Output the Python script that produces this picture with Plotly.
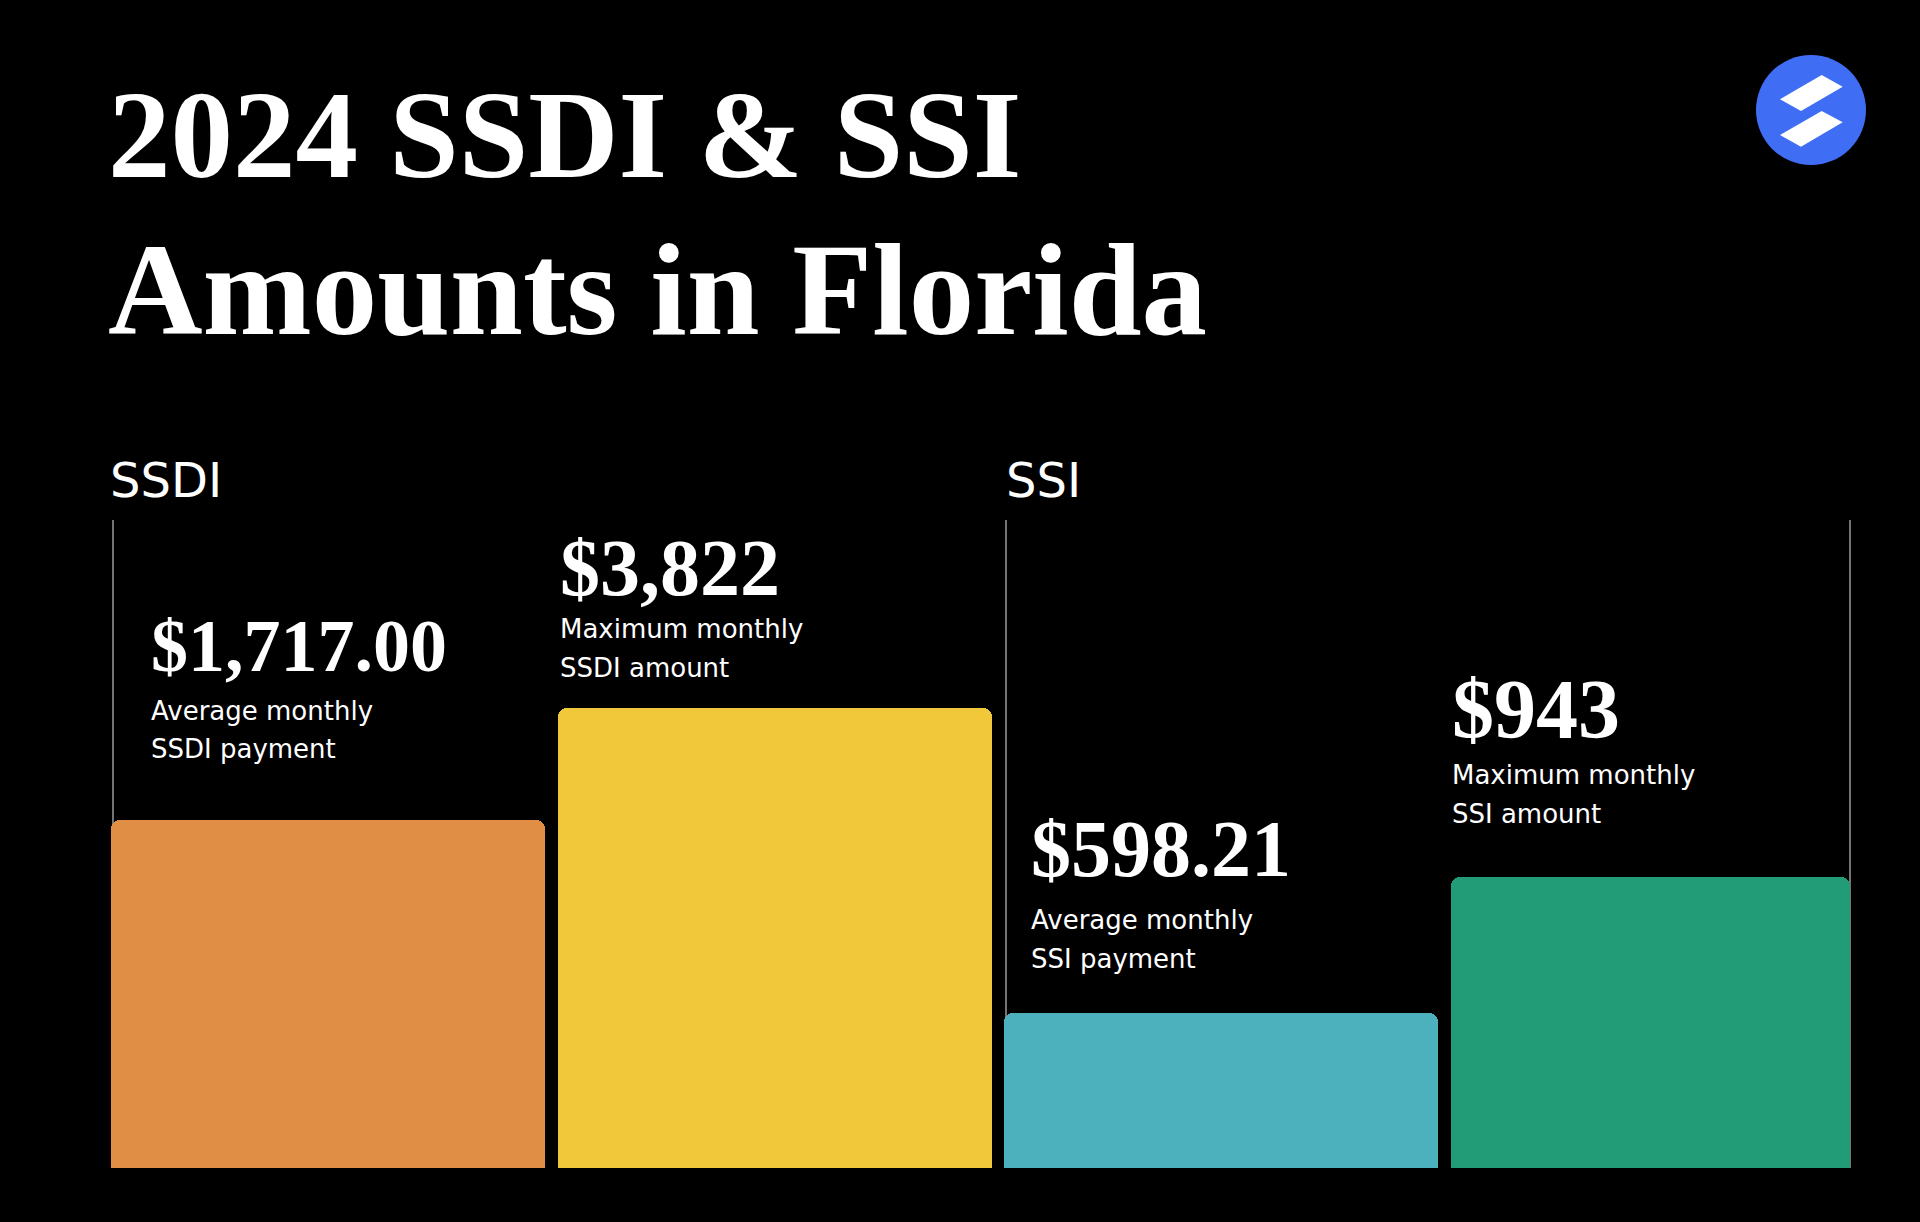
import plotly.graph_objects as go

# ---------------- data ----------------
categories = ["SSDI average", "SSDI maximum", "SSI average", "SSI maximum"]
amounts = [1717.00, 3822, 598.21, 943]
amount_labels = ["$1,717.00", "$3,822", "$598.21", "$943"]
desc_line1 = ["Average monthly", "Maximum monthly", "Average monthly", "Maximum monthly"]
desc_line2 = ["SSDI payment", "SSDI amount", "SSI payment", "SSI amount"]
# bar heights as drawn in the infographic, % of panel height (not proportional to amounts)
bar_heights = [53.7, 71.0, 23.9, 44.9]
bar_colors = ["#E08E45", "#F0C83A", "#4DB1BD", "#229C76"]
group_labels = ["SSDI", "SSI"]
title_lines = ["2024 SSDI & SSI", "Amounts in Florida"]

# ---------------- layout helpers ----------------
W, H = 1920, 1222


def px(x):
    return x / W


def py(y):
    return 1 - y / H


SERIF = "Liberation Serif"
SANS = "DejaVu Sans"

positions = list(range(len(categories)))
pitch = 446.7
bar_w = 434 / pitch
widths = [bar_w, bar_w, bar_w, 399 / pitch]
offset = -bar_w / 2
x_start = offset - 111 / pitch
x_end = x_start + W / pitch

fig = go.Figure()
fig.add_trace(
    go.Bar(
        x=positions,
        y=bar_heights,
        width=widths,
        offset=offset,
        marker=dict(color=bar_colors, line=dict(width=0), cornerradius=9),
        customdata=amounts,
        hovertext=categories,
        hovertemplate="%{hovertext}: $%{customdata:,.2f}<extra></extra>",
    )
)

annotations = []
# title
title_centers = [134.5, 290]
title_sizes = [125, 131]
for line, cy, fs in zip(title_lines, title_centers, title_sizes):
    annotations.append(dict(
        text=line, x=px(106), y=py(cy), xref="paper", yref="paper",
        xanchor="left", yanchor="middle", showarrow=False,
        font=dict(family=SERIF, size=fs, color="white", weight="bold"),
    ))

# group labels
for lab, gx in zip(group_labels, [108, 1004]):
    annotations.append(dict(
        text=lab, x=px(gx), y=py(480), xref="paper", yref="paper",
        xanchor="left", yanchor="middle", showarrow=False,
        font=dict(family=SANS, size=48, color="white"),
    ))

text_x = [149, 558, 1029, 1450]
num_cy = [646, 568, 849, 709]
num_size = [74, 80, 80, 84]
d1_cy = [711, 629, 920, 775]
d2_cy = [749, 668, 959, 814]
for i in range(len(categories)):
    annotations.append(dict(
        text=amount_labels[i], x=px(text_x[i]), y=py(num_cy[i]),
        xref="paper", yref="paper", xanchor="left", yanchor="middle",
        showarrow=False,
        font=dict(family=SERIF, size=num_size[i], color="white", weight="bold"),
    ))
    for txt, cy in ((desc_line1[i], d1_cy[i]), (desc_line2[i], d2_cy[i])):
        annotations.append(dict(
            text=txt, x=px(text_x[i]), y=py(cy),
            xref="paper", yref="paper", xanchor="left", yanchor="middle",
            showarrow=False,
            font=dict(family=SANS, size=26, color="white"),
        ))

shapes = []
# vertical separator lines
for lx in [113, 1006, 1850]:
    shapes.append(dict(
        type="line", xref="paper", yref="paper",
        x0=px(lx), x1=px(lx), y0=py(520), y1=py(1168),
        line=dict(color="#e8e8e8", width=1), layer="below",
    ))

# logo
cx, cy, r = 1811, 110, 55
shapes.append(dict(
    type="circle", xref="paper", yref="paper",
    x0=px(cx - r), x1=px(cx + r), y0=py(cy + r), y1=py(cy - r),
    fillcolor="#3F6EF4", line=dict(width=0), layer="above",
))


def poly(points):
    d = "M " + " L ".join(f"{px(a):.5f},{py(b):.5f}" for a, b in points) + " Z"
    return dict(type="path", xref="paper", yref="paper", path=d,
                fillcolor="white", line=dict(width=0), layer="above")


shapes.append(poly([(1780, 99.3), (1821.7, 75), (1842.7, 86.7), (1801, 111)]))
shapes.append(poly([(1780, 135), (1821.7, 111), (1842.7, 122.3), (1801, 146.7)]))

fig.update_layout(
    width=W, height=H, autosize=False,
    margin=dict(l=0, r=0, t=0, b=0, pad=0),
    paper_bgcolor="black", plot_bgcolor="black",
    showlegend=False,
    bargap=0,
    xaxis=dict(range=[x_start, x_end], domain=[0, 1], visible=False, fixedrange=True),
    yaxis=dict(range=[0, 100], domain=[py(1168), py(520)], visible=False, fixedrange=True),
    annotations=annotations,
    shapes=shapes,
)

fig.write_html(
    "out.html",
    config={"displayModeBar": False},
    post_script="document.body.style.margin='0';document.body.style.background='black';document.body.style.overflow='hidden';",
)
